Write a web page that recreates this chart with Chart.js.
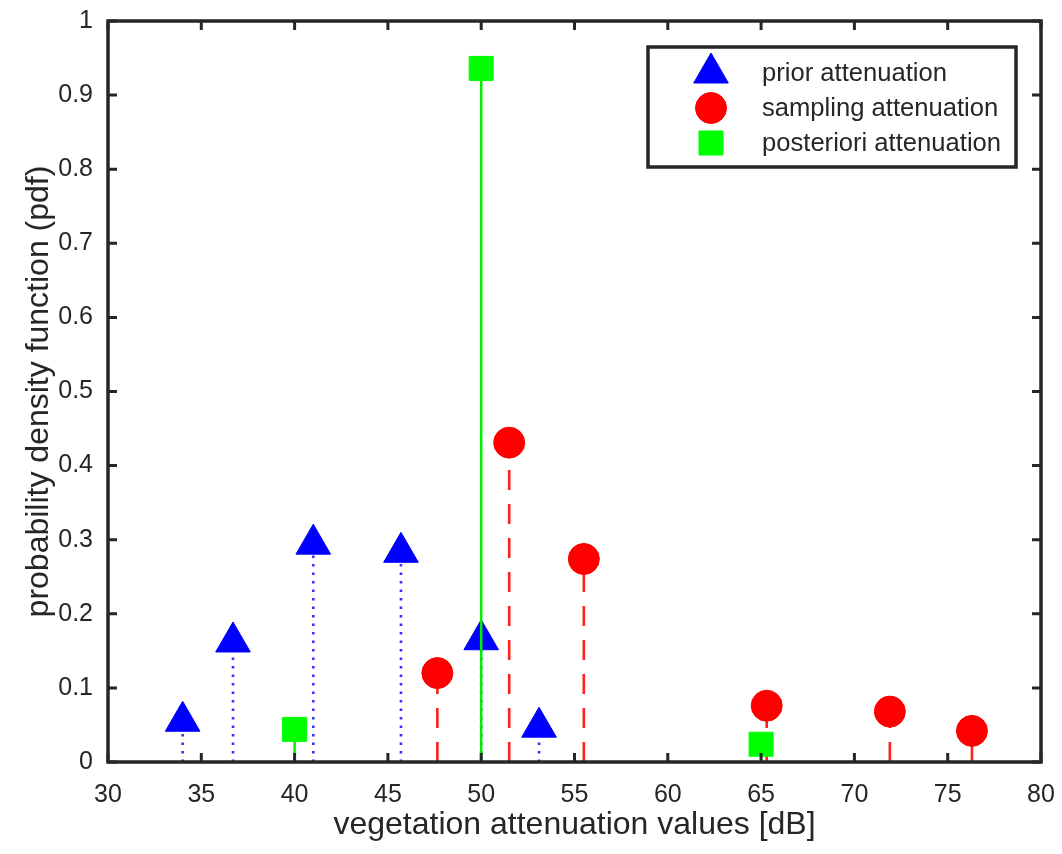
<!DOCTYPE html>
<html>
<head>
<meta charset="utf-8">
<script src="https://cdn.jsdelivr.net/npm/chart.js@4.4.1/dist/chart.umd.min.js"></script>
<style>
html, body { margin: 0; padding: 0; background: #fff; }
#wrap { width: 1062px; height: 854px; }
</style>
</head>
<body>
<div id="wrap"><canvas id="pdfChart" width="1062" height="854"></canvas></div>
<script>
// values
const priorX = [34, 36.7, 41, 45.7, 50, 53.1];
const priorY = [0.055, 0.162, 0.294, 0.283, 0.165, 0.047];
const samplingX = [47.65, 51.5, 55.5, 65.3, 71.9, 76.3];
const samplingY = [0.12, 0.431, 0.274, 0.076, 0.068, 0.042];
const posteriorX = [40, 50, 65];
const posteriorY = [0.044, 0.936, 0.024];

const xTicks = [30, 35, 40, 45, 50, 55, 60, 65, 70, 75, 80];
const yTicks = [0, 0.1, 0.2, 0.3, 0.4, 0.5, 0.6, 0.7, 0.8, 0.9, 1];
const legendLabels = ['prior attenuation', 'sampling attenuation', 'posteriori attenuation'];

const FONT = '"Liberation Sans", Arial, Helvetica, sans-serif';
const AXIS_COLOR = '#262626';

function points(xs, ys)
{
	return xs.map((x, i) => ({ x: x, y: ys[i] }));
}

// stems: base -> value, then a gap
function stemPoints(xs, ys)
{
	let pts = [];
	for (let i = 0; i < xs.length; i++)
		pts.push({ x: xs[i], y: 0 }, { x: xs[i], y: ys[i] }, { x: xs[i], y: null });
	return pts;
}

const markerStyles = [
	{ pointStyle: 'triangle', radius: 20, color: '#0000ff' },
	{ pointStyle: 'circle', radius: 15.5, color: '#ff0000' },
	{ pointStyle: 'rect', radius: 17, color: '#00ff00' }
];

// box, inward ticks on all four sides
const framePlugin = {
	id: 'frame',
	afterDatasetsDraw(chart) {
		const ctx = chart.ctx;
		const { left, right, top, bottom } = chart.chartArea;
		const xs = chart.scales.x;
		const ys = chart.scales.y;
		ctx.save();
		ctx.strokeStyle = AXIS_COLOR;
		ctx.lineWidth = 3;
		ctx.beginPath();
		xTicks.forEach(v => {
			const px = xs.getPixelForValue(v);
			ctx.moveTo(px, bottom);
			ctx.lineTo(px, bottom - 9);
			ctx.moveTo(px, top);
			ctx.lineTo(px, top + 9);
		});
		yTicks.forEach(v => {
			const py = ys.getPixelForValue(v);
			ctx.moveTo(left, py);
			ctx.lineTo(left + 9, py);
			ctx.moveTo(right, py);
			ctx.lineTo(right - 9, py);
		});
		ctx.stroke();
		ctx.lineWidth = 3.5;
		ctx.strokeRect(left, top, right - left, bottom - top);
		ctx.restore();
	}
};

// matlab style legend box in the upper right corner
const legendBoxPlugin = {
	id: 'legendBox',
	afterDraw(chart) {
		const ctx = chart.ctx;
		const area = chart.chartArea;
		const boxW = 368;
		const boxH = 120;
		const bx = area.right - 25 - boxW;
		const by = area.top + 26;
		const rows = [26, 61, 96];
		ctx.save();
		ctx.fillStyle = '#ffffff';
		ctx.fillRect(bx, by, boxW, boxH);
		ctx.strokeStyle = AXIS_COLOR;
		ctx.lineWidth = 3.5;
		ctx.strokeRect(bx, by, boxW, boxH);
		ctx.font = '25.6px ' + FONT;
		ctx.textBaseline = 'middle';
		ctx.textAlign = 'left';
		for (let i = 0; i < legendLabels.length; i++)
		{
			const m = markerStyles[i];
			ctx.fillStyle = m.color;
			ctx.strokeStyle = m.color;
			ctx.lineWidth = 1;
			Chart.helpers.drawPoint(ctx, { pointStyle: m.pointStyle, radius: m.radius, rotation: 0, borderWidth: 1 }, bx + 63, by + rows[i]);
			ctx.fillStyle = AXIS_COLOR;
			ctx.fillText(legendLabels[i], bx + 114, by + rows[i] + 1);
		}
		ctx.restore();
	}
};

function markerDataset(label, xs, ys, m, order)
{
	return {
		label: label,
		data: points(xs, ys),
		pointStyle: m.pointStyle,
		pointRadius: m.radius,
		pointHoverRadius: m.radius,
		backgroundColor: m.color,
		borderColor: m.color,
		pointBorderWidth: 1,
		showLine: false,
		clip: false,
		order: order
	};
}

function stemDataset(label, xs, ys, color, width, dash, order)
{
	return {
		label: label,
		data: stemPoints(xs, ys),
		showLine: true,
		spanGaps: false,
		pointRadius: 0,
		borderColor: color,
		borderWidth: width,
		borderDash: dash,
		borderCapStyle: 'butt',
		fill: false,
		order: order
	};
}

const ctx = document.getElementById('pdfChart').getContext('2d');
new Chart(ctx, {
	type: 'scatter',
	data: {
		datasets: [
			stemDataset('prior stem', priorX, priorY, '#3030ff', 2.6, [2.5, 6], 5),
			markerDataset(legendLabels[0], priorX, priorY, markerStyles[0], 4),
			stemDataset('sampling stem', samplingX, samplingY, '#ff2020', 2.6, [20, 14], 3),
			markerDataset(legendLabels[1], samplingX, samplingY, markerStyles[1], 2),
			stemDataset('posteriori stem', posteriorX, posteriorY, '#00ee00', 2.5, [], 1),
			markerDataset(legendLabels[2], posteriorX, posteriorY, markerStyles[2], 0)
		]
	},
	options: {
		responsive: false,
		animation: false,
		devicePixelRatio: 1,
		layout: { padding: { top: 21, right: 17, left: 0, bottom: 0 } },
		plugins: {
			legend: { display: false },
			tooltip: { enabled: false }
		},
		scales: {
			x: {
				type: 'linear',
				min: 30,
				max: 80,
				afterBuildTicks: s => { s.ticks = xTicks.map(v => ({ value: v })); },
				afterFit: s => { s.height = 92; s.paddingLeft = 0; s.paddingRight = 0; },
				grid: { display: false, drawTicks: false },
				border: { display: false },
				ticks: {
					color: AXIS_COLOR,
					font: { family: FONT, size: 25 },
					padding: 18,
					maxRotation: 0,
					callback: v => String(v)
				},
				title: {
					display: true,
					text: 'vegetation attenuation values [dB]',
					color: AXIS_COLOR,
					font: { family: FONT, size: 32 },
					padding: { top: 0, bottom: 10 }
				}
			},
			y: {
				type: 'linear',
				min: 0,
				max: 1,
				afterBuildTicks: s => { s.ticks = yTicks.map(v => ({ value: v })); },
				afterFit: s => { s.width = 108; s.paddingTop = 0; s.paddingBottom = 0; },
				grid: { display: false, drawTicks: false },
				border: { display: false },
				ticks: {
					color: AXIS_COLOR,
					font: { family: FONT, size: 25 },
					padding: 15,
					callback: v => String(v)
				},
				title: {
					display: true,
					text: 'probability density function (pdf)',
					color: AXIS_COLOR,
					font: { family: FONT, size: 32 },
					padding: { top: 20, bottom: 0 }
				}
			}
		}
	},
	plugins: [framePlugin, legendBoxPlugin]
});
</script>
</body>
</html>
